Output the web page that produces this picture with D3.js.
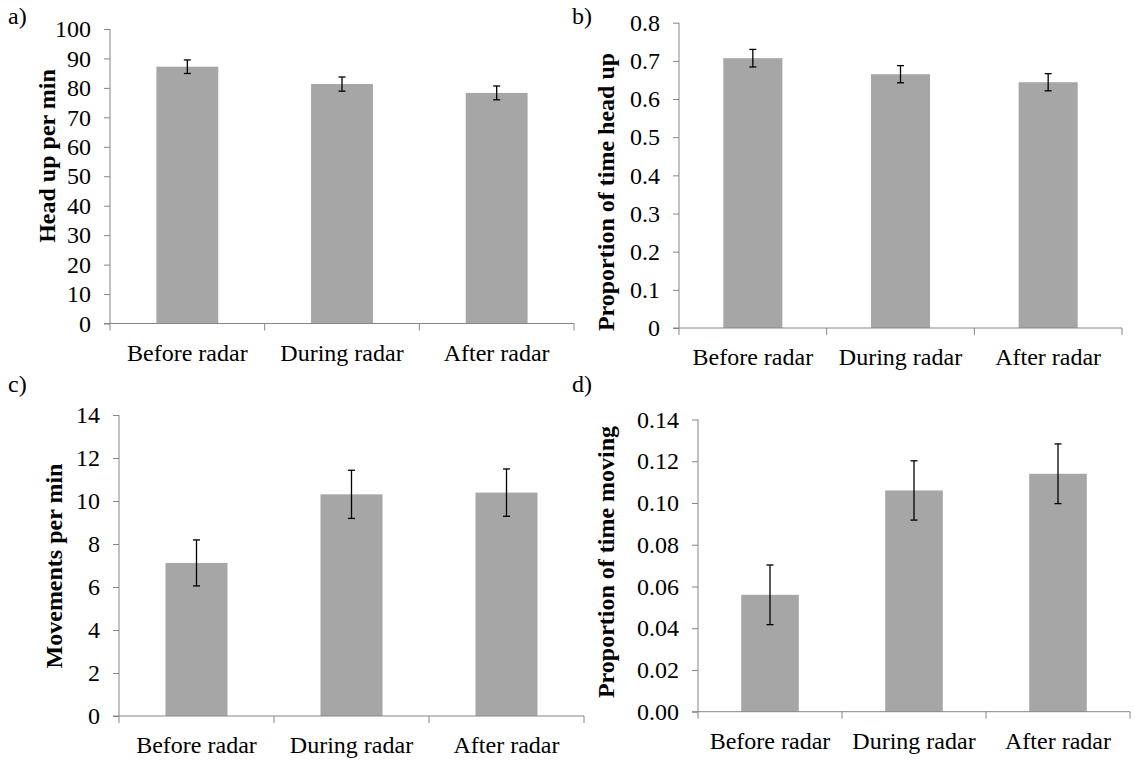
<!DOCTYPE html>
<html>
<head>
<meta charset="utf-8">
<script src="https://cdn.jsdelivr.net/npm/d3@7"></script>
<style>
  html, body { margin: 0; padding: 0; background: #fff; }
  svg { display: block; font-family: "Liberation Serif", "Times New Roman", serif; }
</style>
</head>
<body>
<svg id="chart" width="1135" height="761"></svg>
<script>
// ---------------- DATA ----------------
const categories = ["Before radar", "During radar", "After radar"];

const headUpPerMin = [87.2, 81.3, 78.3];
const headUpPerMinErr = [2.3, 2.4, 2.35];
const headUpPerMinTicks = [0, 10, 20, 30, 40, 50, 60, 70, 80, 90, 100];

const propHeadUp = [0.707, 0.665, 0.644];
const propHeadUpErr = [0.023, 0.0225, 0.0225];
const propHeadUpTicks = [0, 0.1, 0.2, 0.3, 0.4, 0.5, 0.6, 0.7, 0.8];

const movementsPerMin = [7.12, 10.31, 10.39];
const movementsPerMinErr = [1.07, 1.12, 1.1];
const movementsPerMinTicks = [0, 2, 4, 6, 8, 10, 12, 14];

const propMoving = [0.056, 0.106, 0.114];
const propMovingErr = [0.0143, 0.0142, 0.0143];
const propMovingTicks = [0, 0.02, 0.04, 0.06, 0.08, 0.10, 0.12, 0.14];

const panelLetters = ["a)", "b)", "c)", "d)"];
const yTitles = ["Head up per min", "Proportion of time head up", "Movements per min", "Proportion of time moving"];

// ---------------- LAYOUT ----------------
const panels = [
  { letter: panelLetters[0], title: yTitles[0], values: headUpPerMin, errs: headUpPerMinErr, ticks: headUpPerMinTicks,
    fmt: d3.format("d"), x0: 110, x1: 574, yTop: 29, yBot: 323.5, letterX: 8, letterY: 24, titleX: 55, titleY: 156 },
  { letter: panelLetters[1], title: yTitles[1], values: propHeadUp, errs: propHeadUpErr, ticks: propHeadUpTicks,
    fmt: d => d === 0 ? "0" : d3.format(".1f")(d), x0: 679, x1: 1122, yTop: 22.7, yBot: 328, letterX: 572, letterY: 24, titleX: 614, titleY: 192 },
  { letter: panelLetters[2], title: yTitles[2], values: movementsPerMin, errs: movementsPerMinErr, ticks: movementsPerMinTicks,
    fmt: d3.format("d"), x0: 119, x1: 584, yTop: 415, yBot: 716, letterX: 8, letterY: 392, titleX: 62, titleY: 566 },
  { letter: panelLetters[3], title: yTitles[3], values: propMoving, errs: propMovingErr, ticks: propMovingTicks,
    fmt: d3.format(".2f"), x0: 698, x1: 1130, yTop: 419.5, yBot: 711.7, letterX: 572, letterY: 392, titleX: 614, titleY: 562 }
];

const svg = d3.select("#chart");
const axisColor = "#868686";
const barColor = "#a6a6a6";
const fontSize = 24;
const fontFam = "'Liberation Serif', 'Times New Roman', serif";

panels.forEach(p => {
  const g = svg.append("g");
  const x = d3.scaleBand().domain(categories).range([p.x0, p.x1]).paddingInner(0.6).paddingOuter(0.3);
  const y = d3.scaleLinear().domain([0, d3.max(p.ticks)]).range([p.yBot, p.yTop]);

  // bars
  g.selectAll("rect.bar").data(categories).join("rect")
    .attr("class", "bar")
    .attr("x", d => x(d))
    .attr("width", x.bandwidth())
    .attr("y", (d, i) => y(p.values[i]))
    .attr("height", (d, i) => y(0) - y(p.values[i]))
    .attr("fill", barColor);

  // y axis
  const yAxis = d3.axisLeft(y).tickValues(p.ticks).tickFormat(p.fmt).tickSize(6).tickPadding(13);
  const ya = g.append("g").attr("transform", `translate(${p.x0},0)`).call(yAxis)
    .attr("font-family", fontFam).attr("font-size", fontSize);
  ya.select(".domain").attr("stroke", axisColor).attr("d", `M0,${p.yBot}V${p.yTop}`);
  ya.selectAll(".tick line").attr("stroke", axisColor);
  ya.selectAll(".tick text").attr("fill", "#000");

  // x axis
  const step = x.step();
  const xa = g.append("g");
  xa.append("line").attr("x1", p.x0 - 6).attr("x2", p.x1).attr("y1", p.yBot).attr("y2", p.yBot)
    .attr("stroke", axisColor);
  xa.selectAll("line.xt").data(d3.range(categories.length + 1)).join("line")
    .attr("class", "xt")
    .attr("x1", i => p.x0 + i * step).attr("x2", i => p.x0 + i * step)
    .attr("y1", p.yBot).attr("y2", p.yBot + 7)
    .attr("stroke", axisColor);
  xa.selectAll("text.cat").data(categories).join("text")
    .attr("class", "cat")
    .attr("x", d => x(d) + x.bandwidth() / 2)
    .attr("y", p.yBot + 37)
    .attr("text-anchor", "middle")
    .attr("font-family", fontFam)
    .attr("font-size", fontSize)
    .text(d => d);

  // error bars
  const cap = 3.5;
  const eb = g.append("g").attr("stroke", "#000").attr("stroke-width", 1.3);
  categories.forEach((c, i) => {
    const cx = x(c) + x.bandwidth() / 2;
    const hi = y(p.values[i] + p.errs[i]);
    const lo = y(p.values[i] - p.errs[i]);
    eb.append("line").attr("x1", cx).attr("x2", cx).attr("y1", hi).attr("y2", lo);
    eb.append("line").attr("x1", cx - cap).attr("x2", cx + cap).attr("y1", hi).attr("y2", hi);
    eb.append("line").attr("x1", cx - cap).attr("x2", cx + cap).attr("y1", lo).attr("y2", lo);
  });

  // y title
  g.append("text")
    .attr("transform", `translate(${p.titleX},${p.titleY}) rotate(-90)`)
    .attr("text-anchor", "middle")
    .attr("font-family", fontFam)
    .attr("font-size", fontSize)
    .attr("font-weight", "bold")
    .text(p.title);

  // panel letter
  g.append("text")
    .attr("x", p.letterX).attr("y", p.letterY)
    .attr("font-family", fontFam)
    .attr("font-size", fontSize)
    .text(p.letter);
});
</script>
</body>
</html>
